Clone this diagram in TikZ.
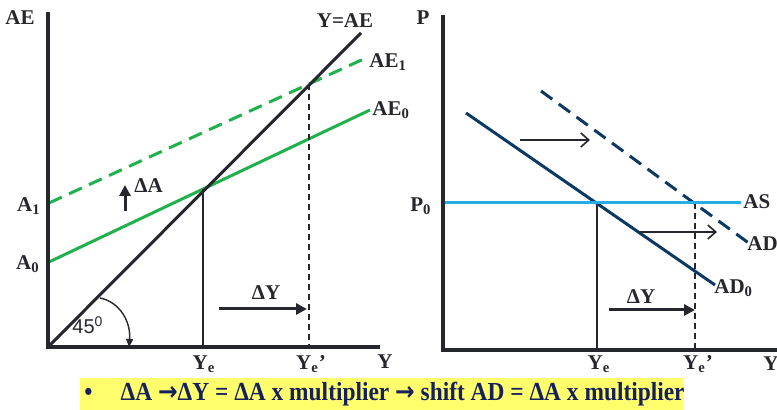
\documentclass[tikz,border=0pt]{standalone}
\usepackage{fontspec}
\setmainfont{Liberation Serif}
\newfontfamily\arialfont{Liberation Sans}
\newfontfamily\arrowfont{DejaVu Sans}
\newcommand{\thenarrow}{{\arrowfont\bfseries →}}
\usetikzlibrary{arrows.meta}
\definecolor{aegreen}{RGB}{32,176,76}
\definecolor{adnavy}{RGB}{12,56,100}
\definecolor{asblue}{RGB}{40,172,228}
\definecolor{axisgray}{RGB}{38,38,46}
\definecolor{noteyellow}{RGB}{255,255,110}
\definecolor{notenavy}{RGB}{22,32,92}
\tikzset{
  axisline/.style={line width=2pt,draw=axisgray},
  lbl/.style={font=\bfseries\fontsize{10.5}{12}\selectfont,text=axisgray,inner sep=0pt},
  guide/.style={line width=0.6pt,draw=axisgray},
  guidedash/.style={line width=0.8pt,draw=axisgray,dash pattern=on 3pt off 2pt},
  bigarrow/.style={line width=1.5pt,draw=axisgray,-{Triangle[length=5.5pt,width=5.5pt]}},
  shiftarrow/.style={line width=0.8pt,draw=axisgray,-{Straight Barb[length=4pt,width=7pt]}}
}
\begin{document}
\begin{tikzpicture}[x=0.5pt,y=-0.5pt]
\useasboundingbox (0,0) rectangle (777,410);
% left panel: Keynesian cross
\coordinate (lTop) at (48,12);
\coordinate (lO) at (48,347);
\coordinate (lRight) at (380,347);
\coordinate (diagEnd) at (361,33);
\coordinate (aeZeroS) at (49,262);
\coordinate (aeZeroE) at (370,110);
\coordinate (aeOneS) at (49,203);
\coordinate (aeOneE) at (368,57);
\coordinate (eqL) at (203,189);
\coordinate (eqLb) at (203,345);
\coordinate (eqLn) at (309,84);
\coordinate (eqLnb) at (309,345);
\draw[aegreen,line width=1.5pt] (aeZeroS) -- (aeZeroE);
\draw[aegreen,line width=1.5pt,dash pattern=on 7pt off 4pt] (aeOneS) -- (aeOneE);
\draw[axisgray,line width=1.5pt] (lO) -- (diagEnd);
\draw[guide] (eqL) -- (eqLb);
\draw[guidedash] (eqLn) -- (eqLnb);
\draw[axisline] (lTop) -- (lO) -- (lRight);
\node[lbl] (aeAxis) at (20,18) {AE};
\node[lbl] (yAxisL) at (385,362) {Y};
\node[lbl] (diagLbl) at (345,21) {Y=AE};
\node[lbl,anchor=west] (aeOneLbl) at (369,62) {AE\textsubscript{1}};
\node[lbl,anchor=west] (aeZeroLbl) at (372,110) {AE\textsubscript{0}};
\node[lbl] (aOne) at (29,206) {A\textsubscript{1}};
\node[lbl] (aZero) at (28,264) {A\textsubscript{0}};
\node[lbl] (yeL) at (204,364) {Y\textsubscript{e}};
\node[lbl] (yenL) at (311,364) {Y\textsubscript{e}’};
% shift in autonomous spending
\coordinate (daS) at (125,211);
\coordinate (daE) at (125,185);
\draw[bigarrow] (daS) -- (daE);
\node[lbl,anchor=west] (daLbl) at (134,186) {ΔA};
\coordinate (dyS) at (219,309);
\coordinate (dyE) at (307,309);
\draw[bigarrow] (dyS) -- (dyE);
\node[lbl] (dyLbl) at (266,293) {ΔY};
% 45 degree mark
\coordinate (angS) at (100,298);
\coordinate (angE) at (129,347);
\draw[axisgray,line width=0.7pt,-{Triangle[length=4pt,width=3.5pt]}] (angS) .. controls (120,302) and (131,322) .. (angE);
\node[font=\arialfont\fontsize{10}{12}\selectfont,text=axisgray,inner sep=0pt] (angLbl) at (88,325) {45\textsuperscript{0}};
% right panel: AD-AS
\coordinate (rTop) at (443,15);
\coordinate (rO) at (443,350);
\coordinate (rRight) at (777,350);
\coordinate (adZeroS) at (466,113);
\coordinate (adZeroE) at (715,285);
\coordinate (adOneS) at (541,91);
\coordinate (adOneE) at (750,244);
\coordinate (asS) at (443,203);
\coordinate (asE) at (741,203);
\coordinate (eqR) at (597,203);
\coordinate (eqRb) at (597,348);
\coordinate (eqRn) at (695,203);
\coordinate (eqRnb) at (695,348);
\draw[guide] (eqR) -- (eqRb);
\draw[guidedash] (eqRn) -- (eqRnb);
\draw[adnavy,line width=1.5pt] (adZeroS) -- (adZeroE);
\draw[adnavy,line width=1.5pt,dash pattern=on 7pt off 4pt] (adOneS) -- (adOneE);
\draw[asblue,line width=1.5pt] (asS) -- (asE);
\draw[axisline] (rTop) -- (rO) -- (rRight);
\node[lbl] (pAxis) at (423,18) {P};
\node[lbl] (pZero) at (421,206) {P\textsubscript{0}};
\node[lbl,anchor=west] (yAxisR) at (763,364) {Y};
\node[lbl,anchor=west] (asLbl) at (743,202) {AS};
\node[lbl,anchor=west] (adOneLbl) at (747,244) {AD};
\node[lbl,anchor=west] (adZeroLbl) at (714,288) {AD\textsubscript{0}};
\node[lbl] (yeR) at (599,364) {Y\textsubscript{e}};
\node[lbl] (yenR) at (698,364) {Y\textsubscript{e}’};
\coordinate (shTopS) at (520,140);
\coordinate (shTopE) at (590,140);
\coordinate (shMidS) at (639,232);
\coordinate (shMidE) at (717,232);
\draw[shiftarrow] (shTopS) -- (shTopE);
\draw[shiftarrow] (shMidS) -- (shMidE);
\coordinate (dyRS) at (609,310);
\coordinate (dyRE) at (695,310);
\draw[bigarrow] (dyRS) -- (dyRE);
\node[lbl] (dyRLbl) at (641,297) {ΔY};
% note at the bottom
\fill[noteyellow] (80,378) rectangle (683,410);
\node[anchor=west,inner sep=0pt,text=notenavy,font=\bfseries\fontsize{13}{15}\selectfont] (note) at (84,394)
  {\scalebox{0.9}[1]{•\hspace{1.2em}ΔA \thenarrow ΔY = ΔA x multiplier \thenarrow\ shift AD = ΔA x multiplier}};
\end{tikzpicture}
\end{document}
